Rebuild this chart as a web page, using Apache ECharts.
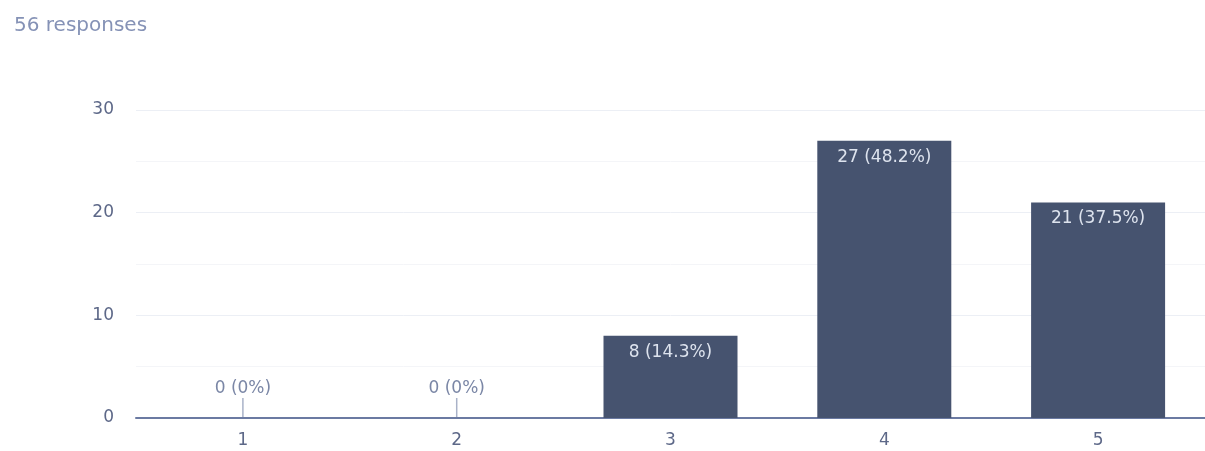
<!DOCTYPE html>
<html>
<head>
<meta charset="utf-8">
<style>
  html, body { margin: 0; padding: 0; background: #ffffff; overflow: hidden; }
  #chart { width: 1205px; height: 451px; }
</style>
<script src="https://cdn.jsdelivr.net/npm/echarts@6/dist/echarts.min.js"></script>
</head>
<body>
<div id="chart"></div>
<script>
// Rating scale and response counts
const categories = ['1', '2', '3', '4', '5'];
const counts = [0, 0, 8, 27, 21];
const yTicks = [0, 10, 20, 30];
const responseTotal = 56;

function pctLabel(v) {
  const p = Math.round(v / responseTotal * 1000) / 10;
  return v + ' (' + p + '%)';
}

const chart = echarts.init(document.getElementById('chart'));
const FONT = '"DejaVu Sans", Verdana, sans-serif';

chart.setOption({
  animation: false,
  title: {
    text: responseTotal + ' responses',
    left: 9, top: 11,
    textStyle: { color: '#8592b6', fontSize: 20, fontWeight: 'normal', fontFamily: FONT }
  },
  grid: { left: 136, width: 1075, top: 110, bottom: 33 },
  xAxis: {
    type: 'category',
    data: categories,
    axisLine: { lineStyle: { color: '#6b7aa2', width: 2 } },
    axisTick: { show: false },
    axisLabel: { color: '#5d6888', fontSize: 17, fontFamily: FONT, margin: 14 }
  },
  yAxis: {
    type: 'value',
    min: yTicks[0], max: yTicks[yTicks.length - 1], interval: 10,
    axisLine: { show: false },
    axisTick: { show: false },
    axisLabel: { color: '#5d6888', fontSize: 17, fontFamily: FONT, margin: 22 },
    splitLine: { lineStyle: { color: '#eceff5', width: 1 } },
    minorTick: { show: false, splitNumber: 2 },
    minorSplitLine: { show: true, lineStyle: { color: '#f4f5f8', width: 1 } }
  },
  series: [
    {
      type: 'bar',
      data: counts,
      barWidth: 134,
      itemStyle: { color: '#46536f' },
      label: {
        show: true,
        position: 'insideTop',
        distance: 8,
        color: '#dde3ee',
        fontSize: 17,
        fontFamily: FONT,
        formatter: p => p.value > 0 ? pctLabel(p.value) : ''
      }
    },
    {
      // stem and label for categories with no responses
      type: 'custom',
      data: counts.map((v, i) => [i, v]),
      renderItem: function (params, api) {
        const v = api.value(1);
        if (v !== 0) return null;
        const pt = api.coord([api.value(0), v]);
        return {
          type: 'group',
          children: [
            {
              type: 'line',
              shape: { x1: pt[0], y1: pt[1] - 1, x2: pt[0], y2: pt[1] - 20 },
              style: { stroke: '#a9b2c8', lineWidth: 1.5 }
            },
            {
              type: 'text',
              style: {
                x: pt[0], y: pt[1] - 29,
                text: pctLabel(v),
                fill: '#7b87a6',
                font: '17px ' + FONT,
                align: 'center',
                verticalAlign: 'middle'
              }
            }
          ]
        };
      }
    }
  ]
});
</script>
</body>
</html>
